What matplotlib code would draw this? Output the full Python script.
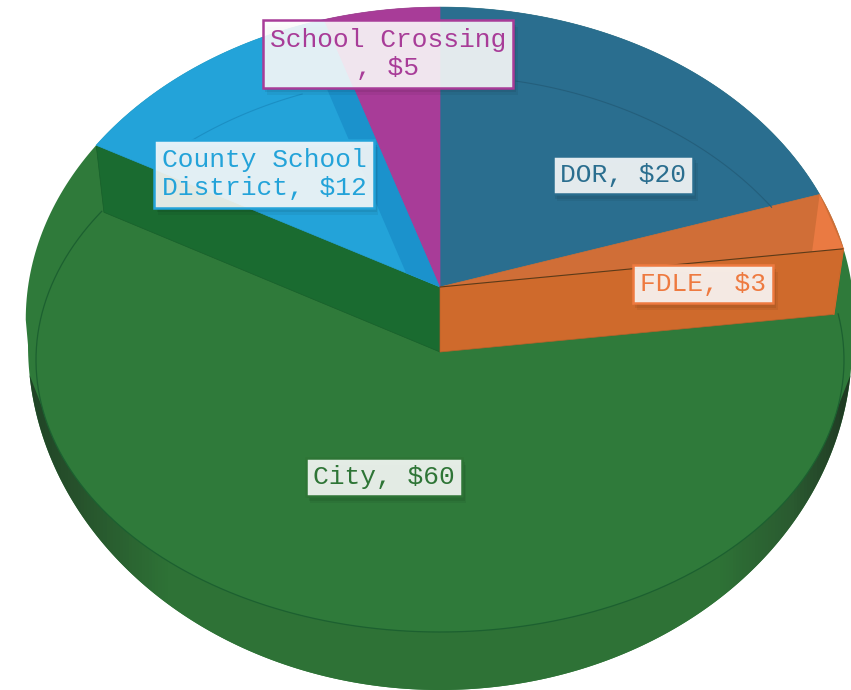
#!/usr/bin/env python3

import matplotlib
matplotlib.use('Agg')
import matplotlib.pyplot as plt
import matplotlib.patheffects as pe
from matplotlib.colors import LinearSegmentedColormap
from matplotlib.patches import Polygon
import numpy as np

# chart data
categories = ['DOR', 'FDLE', 'City', 'County School', 'School Crossing']
values = [20, 3, 60, 12, 5]
label_text = ['DOR, $20', 'FDLE, $3', 'City, $60',
              'County School\nDistrict, $12', 'School Crossing\n, $5']

# styling, one entry per slice
top_colors = ['#2a6e8f', '#d06e37', '#2f7a3a', '#23a3d9', '#a83c98']
text_colors = ['#2a6e8f', '#ee7a40', '#2e7536', '#23a3d9', '#a83c98']
label_pos = [(623, 175), (703, 284), (384, 477), (264, 174), (388, 54)]

# the tilted disc as seen by the camera: upper and lower face
TOP = dict(cx=440, cy=287, a=412, b=309, k=0.104)
LOW = dict(cx=440, cy=352, a=402, b=304, k=0.100)
GREEN = '#2f7a3a'


def disc(theta, cx, cy, a, b, k):
    # theta in degrees, clockwise from the top
    t = np.radians(theta)
    w = 1 + k*np.cos(t)
    return cx + a*np.sin(t)/w, cy - b*np.cos(t)/w


def centre(face):
    return face['cx'], face['cy']


def cross(p1, p2, p3, p4):
    # where the line p1-p2 meets the line p3-p4
    a = np.array([[p2[0]-p1[0], p3[0]-p4[0]], [p2[1]-p1[1], p3[1]-p4[1]]])
    s = np.linalg.solve(a, [p3[0]-p1[0], p3[1]-p1[1]])[0]
    return p1[0] + s*(p2[0]-p1[0]), p1[1] + s*(p2[1]-p1[1])


def ellipse(params, cx=440, cy=360, a=404, b=272):
    t = np.radians(params)
    return cx + a*np.sin(t), cy - b*np.cos(t)


def ellipse_param(p, cx=440, cy=360, a=404, b=272):
    return np.degrees(np.arctan2((p[0]-cx)/a, (cy-p[1])/b)) % 360


fig = plt.figure(figsize=(8.51, 6.90), dpi=100)
ax = fig.add_axes([0, 0, 1, 1])

edges = np.cumsum([0] + values) * 360.0 / sum(values)
dor_end, fdle_end, city_end, county_end = edges[1], edges[2], edges[3], edges[4]

# outline of the whole pie
th = np.linspace(264, 456, 200)
up_x, up_y = disc(th, **TOP)
lo_t = np.linspace(90, 270, 200)
lo_x, lo_y = ellipse(lo_t, cy=345, a=412, b=345)
outline = np.column_stack([np.r_[up_x, lo_x], np.r_[up_y, lo_y]])
ax.add_patch(Polygon(outline, closed=True, fc=GREEN, ec='none'))

# side wall, darker towards both ends, tapering into the rim
wall_t = np.linspace(95, 265, 200)
wall_x, wall_y = ellipse(wall_t, cy=345, a=412, b=345)
rim_x, rim_y = ellipse(np.linspace(260, 100, 200))
wall_clip = Polygon(np.column_stack([np.r_[wall_x, rim_x], np.r_[wall_y, rim_y]]), closed=True,
                    transform=ax.transData, fc='none', ec='none')
ax.add_patch(wall_clip)
wall_cmap = LinearSegmentedColormap.from_list('wall', [
    (0.0, '#1f4326'), (0.05, '#264f2b'), (0.17, '#2e7236'),
    (0.84, '#2e7236'), (0.93, '#2a5a30'), (0.985, '#223f26'), (1.0, '#1c3a20')])
grad = np.linspace(0, 1, 256).reshape(1, -1)
img = ax.imshow(grad, extent=[26, 852, 690, 300], cmap=wall_cmap, aspect='auto', zorder=1)
img.set_clip_path(wall_clip)

# visible part of the city slice on the lower face
p_start = disc(fdle_end, **LOW)
p_end = disc(city_end, **LOW)
arc_t = np.linspace(ellipse_param(p_start), ellipse_param(p_end), 300)
arc_x, arc_y = ellipse(arc_t)
surface = np.column_stack([np.r_[440, p_start[0], arc_x, p_end[0]],
                           np.r_[352, p_start[1], arc_y, p_end[1]]])
ax.add_patch(Polygon(surface, closed=True, fc=GREEN, ec='none', zorder=2))
ax.plot(arc_x, arc_y, color='#1c6030', lw=0.9, zorder=2.5)

# cut walls between upper and lower face
ax.fill([440, disc(city_end, **TOP)[0], p_end[0], 440],
        [287, disc(city_end, **TOP)[1], p_end[1], 352],
        fc='#1a6b30', ec='#185f2b', lw=0.5, zorder=3)
ax.fill([440, disc(fdle_end, **TOP)[0], p_start[0], 440],
        [287, disc(fdle_end, **TOP)[1], p_start[1], 352],
        fc='#cf6a2c', ec='#b9602a', lw=0.5, zorder=3)

# top faces of the other slices
for i in [0, 1, 3, 4]:
    t = np.linspace(edges[i], edges[i+1], 120)
    x, y = disc(t, **TOP)
    ax.fill(np.r_[440, x], np.r_[287, y], fc=top_colors[i], ec=top_colors[i], lw=0.5, zorder=4)

# dark strip inside the county slice
c_top = disc(county_end, **TOP)
c_low = disc(county_end, **LOW)
c_in = cross(c_low, centre(LOW), centre(TOP), disc(city_end, **TOP))
c_side = (440 + (c_top[0]-440)*(287-c_low[1])/(287-c_top[1]), c_low[1])
ax.fill([440, c_in[0], c_low[0], c_side[0]], [287, c_in[1], c_low[1], c_side[1]],
        fc='#1b92cc', ec='none', zorder=5)

# lighter tip of the fdle slice
f_a = disc(dor_end, **TOP)
f_b = disc(fdle_end, **TOP)
f_in = cross(f_a, disc(dor_end, **LOW), centre(TOP), f_b)
ax.fill([f_a[0], f_b[0], f_in[0]], [f_a[1], f_b[1], f_in[1]], fc='#ea7a42', ec='none', zorder=5)

# seams
ax.plot([440, f_b[0]], [287, f_b[1]], color='#5c3a18', lw=0.8, zorder=6)
ax.plot([f_b[0], p_start[0]], [f_b[1], p_start[1]], color='#cf6a2c', lw=0.8, zorder=6)
for t0, t1, col in [(12, 60, '#245f7c'), (318, 338, '#1b8fc4')]:
    x, y = disc(np.linspace(t0, t1, 80), **LOW)
    ax.plot(x, y, color=col, lw=0.8, zorder=6)

# data labels
for i, txt in enumerate(label_text):
    t = ax.text(label_pos[i][0], label_pos[i][1], txt, family=['Liberation Mono', 'DejaVu Sans'],
                fontsize=18.9, color=text_colors[i], ha='center', va='center', linespacing=1.24,
                zorder=10, bbox=dict(boxstyle='square,pad=0.28', fc=(1, 1, 1, 0.88),
                                     ec=text_colors[i], lw=1.8))
    t.get_bbox_patch().set_path_effects([
        pe.SimplePatchShadow(offset=(1, -1.5), shadow_rgbFace='#000000', alpha=0.08),
        pe.SimplePatchShadow(offset=(2, -3), shadow_rgbFace='#000000', alpha=0.07),
        pe.SimplePatchShadow(offset=(3, -5), shadow_rgbFace='#000000', alpha=0.05),
        pe.Normal()])

ax.set_xlim(0, 851)
ax.set_ylim(690, 0)
ax.axis('off')

fig.savefig('out.png', dpi=100, facecolor='white')
